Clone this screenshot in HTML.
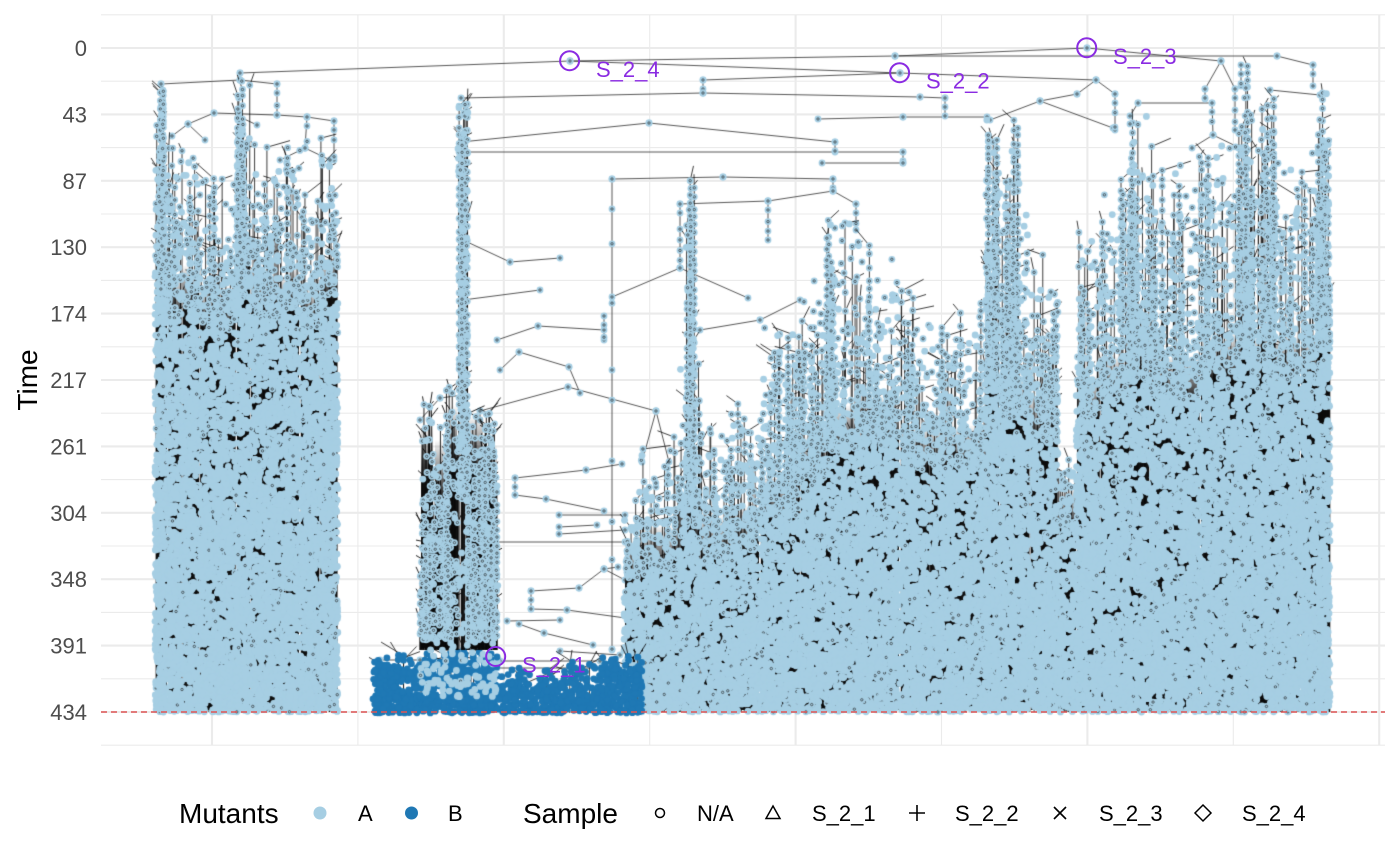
<!DOCTYPE html>
<html><head><meta charset="utf-8">
<style>
html,body{margin:0;padding:0;background:#fff;}
#wrap{position:relative;width:1400px;height:865px;overflow:hidden;font-family:"Liberation Sans",Arial,sans-serif;background:#fff;}
#wrap svg,#wrap canvas{position:absolute;left:0;top:0;}
</style></head><body>
<div id="wrap">
<svg id="bg" width="1400" height="865" xmlns="http://www.w3.org/2000/svg">
<g stroke="#ebebeb" fill="none">
<g stroke-width="1.1">
<line x1="101" x2="1385" y1="14.8" y2="14.8"/><line x1="101" x2="1385" y1="81.2" y2="81.2"/><line x1="101" x2="1385" y1="147.6" y2="147.6"/><line x1="101" x2="1385" y1="214" y2="214"/><line x1="101" x2="1385" y1="280.4" y2="280.4"/><line x1="101" x2="1385" y1="346.8" y2="346.8"/><line x1="101" x2="1385" y1="413.2" y2="413.2"/><line x1="101" x2="1385" y1="479.6" y2="479.6"/><line x1="101" x2="1385" y1="546" y2="546"/><line x1="101" x2="1385" y1="612.4" y2="612.4"/><line x1="101" x2="1385" y1="678.8" y2="678.8"/><line x1="101" x2="1385" y1="745.2" y2="745.2"/>
<line y1="15" y2="745" x1="357.9" x2="357.9"/><line y1="15" y2="745" x1="649.7" x2="649.7"/><line y1="15" y2="745" x1="941.5" x2="941.5"/><line y1="15" y2="745" x1="1233.3" x2="1233.3"/>
</g>
<g stroke-width="2.1">
<line x1="101" x2="1385" y1="48" y2="48"/><line x1="101" x2="1385" y1="114.4" y2="114.4"/><line x1="101" x2="1385" y1="180.8" y2="180.8"/><line x1="101" x2="1385" y1="247.2" y2="247.2"/><line x1="101" x2="1385" y1="313.6" y2="313.6"/><line x1="101" x2="1385" y1="380" y2="380"/><line x1="101" x2="1385" y1="446.4" y2="446.4"/><line x1="101" x2="1385" y1="512.8" y2="512.8"/><line x1="101" x2="1385" y1="579.2" y2="579.2"/><line x1="101" x2="1385" y1="645.6" y2="645.6"/><line x1="101" x2="1385" y1="712" y2="712"/>
<line y1="15" y2="745" x1="212" x2="212"/><line y1="15" y2="745" x1="503.8" x2="503.8"/><line y1="15" y2="745" x1="795.6" x2="795.6"/><line y1="15" y2="745" x1="1087.4" x2="1087.4"/><line y1="15" y2="745" x1="1379.2" x2="1379.2"/>
</g>
</g>
<g font-size="22" fill="#4d4d4d" text-anchor="end" font-family="Liberation Sans, Arial, sans-serif">
<text x="87" y="56">0</text>
<text x="87" y="122.4">43</text>
<text x="87" y="188.8">87</text>
<text x="87" y="255.2">130</text>
<text x="87" y="321.6">174</text>
<text x="87" y="388">217</text>
<text x="87" y="454.4">261</text>
<text x="87" y="520.8">304</text>
<text x="87" y="587.2">348</text>
<text x="87" y="653.6">391</text>
<text x="87" y="720">434</text>
</g>
<text transform="translate(37,380) rotate(-90)" text-anchor="middle" font-size="28" fill="#000" font-family="Liberation Sans, Arial, sans-serif">Time</text>
<g font-family="Liberation Sans, Arial, sans-serif" fill="#000">
<text x="179" y="823" font-size="28">Mutants</text>
<circle cx="320" cy="813" r="6.5" fill="#a6cee3"/>
<text x="358" y="821" font-size="22">A</text>
<circle cx="411.5" cy="813" r="6.5" fill="#1f78b4"/>
<text x="448" y="821" font-size="22">B</text>
<text x="523" y="823" font-size="28">Sample</text>
<circle cx="660" cy="813" r="4.5" fill="none" stroke="#000" stroke-width="1.5"/>
<text x="697" y="821" font-size="22">N/A</text>
<polygon points="773,806 780,818.5 766,818.5" fill="none" stroke="#000" stroke-width="1.5"/>
<text x="812" y="821" font-size="22">S_2_1</text>
<path d="M909,813H925M917,805V821" stroke="#000" stroke-width="1.6"/>
<text x="955" y="821" font-size="22">S_2_2</text>
<path d="M1054,807L1066,819M1066,807L1054,819" stroke="#000" stroke-width="1.6"/>
<text x="1099" y="821" font-size="22">S_2_3</text>
<polygon points="1203,805 1211,813 1203,821 1195,813" fill="none" stroke="#000" stroke-width="1.5"/>
<text x="1242" y="821" font-size="22">S_2_4</text>
</g>
</svg>
<canvas id="cv" width="1400" height="865"></canvas>
<svg id="fg" width="1400" height="865" xmlns="http://www.w3.org/2000/svg">
<line x1="101" x2="1385" y1="712" y2="712" stroke="#e05555" stroke-width="1.4" stroke-dasharray="6,4"/>
<g fill="none" stroke="#8a2be2" stroke-width="2">
<circle cx="569.6" cy="60.7" r="9.5"/>
<circle cx="899.6" cy="72.7" r="9.5"/>
<circle cx="1086.7" cy="47.7" r="9.5"/>
<circle cx="495.7" cy="656.5" r="9.5"/>
</g>
<g fill="#8a2be2" font-size="22" font-family="Liberation Sans, Arial, sans-serif">
<text x="596" y="77">S_2_4</text>
<text x="926" y="88.5">S_2_2</text>
<text x="1113" y="64">S_2_3</text>
<text x="522" y="672.5">S_2_1</text>
</g>
</svg>
</div>
<script>
(function(){
var cv=document.getElementById('cv'),ctx=cv.getContext('2d');
var seed=987654;
function R(){seed|=0;seed=seed+0x6D2B79F5|0;var t=Math.imul(seed^seed>>>15,1|seed);t=t+Math.imul(t^t>>>7,61|t)^t;return((t^t>>>14)>>>0)/4294967296;}
var LB='#a6cee3',DB='#1f78b4',YB=712,RAD=3.4;
function circ(x,y,col,ring){
  ctx.fillStyle=col;ctx.beginPath();ctx.arc(x,y,RAD,0,6.2832);ctx.fill();
  if(ring){ctx.strokeStyle='rgba(30,30,30,0.9)';ctx.lineWidth=0.7;ctx.beginPath();ctx.arc(x,y,1.2,0,6.2832);ctx.stroke();}
}
/* hand-drawn sparse tree */
var T=[
[240,73,570,61],[570,61,895,56],[895,56,1087,48],[895,56,1277,56],[570,61,900,73],[900,73,1096,80],
[703,80,900,73],[703,80,703,93],[461,98,703,93],[703,93,920,97],[920,97,945,98],[945,98,945,116],
[1087,48,1221,61],[1277,56,1313,65],[1313,65,1313,86],[1221,61,1205,89],[1221,61,1235,89],
[1205,89,1205,99],[1235,89,1235,130],[1096,80,1077,94],[1096,80,1115,94],[1077,94,1040,101],
[1040,101,990,120],[1040,101,1113,128],[1115,94,1115,130],[1138,103,1212,103],[1138,103,1130,116],
[1212,103,1213,135],[1213,135,1192,148],[1213,135,1240,148],[818,119,903,117],[903,117,987,117],
[649,123,461,142],[649,123,835,142],[835,142,835,152],[461,152,903,152],[903,152,903,163],
[822,163,903,163],[612,179,723,177],[723,177,833,179],[833,179,833,191],[833,191,768,201],
[768,201,680,204],[833,191,856,204],[680,204,680,268],[680,268,612,297],[680,268,748,298],
[612,179,612,650],[856,204,856,230],[768,201,768,240],[1241,65,1241,86],[1270,90,1320,95],
[161,84,240,80],[240,73,240,80],[240,80,277,84],[277,84,277,115],[161,84,161,140],[214,113,277,115],
[277,115,307,117],[307,117,334,121],[214,113,188,124],[188,124,172,136],[188,124,205,140],
[334,121,334,160],[240,117,257,125],[307,117,305,148],[305,148,280,160],[305,148,330,160],
[568,387,480,411],[568,387,656,411],[480,411,480,420],[656,411,642,462],[656,411,669,462],
[515,478,586,470],[586,470,622,464],[515,478,515,495],[515,495,546,499],[546,499,604,511],
[559,515,625,515],[559,527,597,525],[559,534,625,530],[496,542,625,542],[604,569,579,588],
[579,588,531,591],[531,591,531,609],[531,609,567,610],[567,610,640,620],[507,621,560,620],
[519,624,544,633],[544,633,593,645],[560,651,620,655],[604,569,618,567],[604,569,625,580],
[538,326,497,340],[538,326,604,330],[604,316,604,340],[519,352,500,370],[519,352,569,367],
[569,367,580,393],[463,240,510,262],[510,262,560,258],[463,300,540,290],[420,420,440,398],[440,398,463,395],
[380,660,420,660],[497,668,630,668],[500,661,600,661],[700,330,760,320],[760,320,800,300]
];
ctx.strokeStyle='#2a2a2a';ctx.lineWidth=0.8;ctx.beginPath();
T.forEach(function(l){ctx.moveTo(l[0],l[1]);ctx.lineTo(l[2],l[3]);});ctx.stroke();
T.forEach(function(l){circ(l[0],l[1],LB,true);circ(l[2],l[3],LB,true);
  var len=Math.abs(l[3]-l[1]);
  if(Math.abs(l[2]-l[0])<3&&len<120){for(var y=Math.min(l[1],l[3])+9;y<Math.max(l[1],l[3]);y+=9+R()*8)circ(l[0],y,LB,true);}
  else if(Math.abs(l[2]-l[0])<3){for(var y2=Math.min(l[1],l[3])+30;y2<Math.max(l[1],l[3]);y2+=30+R()*60)circ(l[0],y2,LB,true);}
});
/* segments */
var S=[];
function seg(x0,x1,top,solid,o){o=o||{};var yb=o.ybot||YB;S.push({x0:x0,x1:x1,top:top,solid:solid,
  cmax:o.cmax!==undefined?o.cmax:0.78,csol:o.csol!==undefined?o.csol:0.88,cend:o.cend!==undefined?o.cend:0.985,
  pw:o.pw||1.0,D:o.D||0.75,col:o.col||LB,bg:o.bg!==undefined?o.bg:true,bgc:o.bgc||'17,17,17',ybot:yb,lbot:o.lbot||yb,
  layer:o.layer||0,ring:o.ring!==undefined?o.ring:true,lw:o.lw||0.8,chainP:o.chainP!==undefined?o.chainP:0.35,bgTop:o.bgTop});}
function cov(s,y){
  if(y<s.top)return 0;
  if(y<s.solid)return s.cmax*Math.pow((y-s.top)/(s.solid-s.top),s.pw);
  var f=(y-s.solid)/Math.max(1,(s.ybot-s.solid));if(f>1)f=1;
  return s.csol+(s.cend-s.csol)*Math.sqrt(f);
}
/* chain columns */
function colseg(x0,x1,top,solid,p){seg(x0,x1,top,solid,{pw:p||0.45,D:1.4,bg:false,cmax:0.35,chainP:0.8,ybot:solid,lbot:YB});}
colseg(156,164,85,300);colseg(237,246,75,300);colseg(686,695,178,500);colseg(826,835,212,450);
colseg(985,996,112,380);colseg(1129,1138,95,380);colseg(1245,1253,65,350);colseg(1318,1329,88,350);
colseg(1006,1020,115,400,0.6);colseg(1260,1275,92,340,0.6);
/* left block */
seg(155,168,90,290);seg(168,182,140,320);seg(182,200,125,310);seg(200,236,165,330);seg(236,250,80,290);
seg(250,286,140,320);seg(286,300,125,310);seg(300,320,170,330);seg(320,338,115,300);
/* right block */
seg(624,640,470,585);seg(640,680,430,570);seg(680,700,330,540);seg(700,730,420,560);seg(730,760,400,550);
seg(760,800,320,520);seg(800,830,250,480);seg(830,860,215,450);seg(860,900,235,440);seg(900,930,270,470);
seg(930,985,295,470);seg(985,1000,110,380);seg(1000,1030,190,420);seg(1030,1058,240,440);seg(1058,1076,450,530);
seg(1076,1100,215,420);seg(1100,1130,160,400);seg(1130,1150,100,380);seg(1150,1200,140,400);seg(1200,1240,125,380);
seg(1240,1252,65,350);seg(1252,1300,140,380);seg(1300,1318,130,380);seg(1318,1330,88,350);
/* dark blue */
var db={col:DB,bg:false,layer:1,D:0.12,cmax:0.93,csol:0.96,cend:0.985,ring:false,pw:0.7,ybot:713,chainP:0};
seg(373,422,655,670,db);seg(422,497,648,664,db);seg(497,560,666,688,db);seg(560,600,662,682,db);seg(600,642,655,670,db);
/* middle-left cluster */
function mc(bt){return {layer:2,bg:true,bgc:'20,20,20',bgTop:bt,D:3.5,lw:0.9,cmax:0.32,csol:0.38,cend:0.55,pw:0.9,ybot:697,lbot:650,chainP:0.22};}
seg(420,434,395,640,mc(425));seg(434,446,400,640,mc(440));seg(446,458,385,640,mc(405));seg(468,484,400,640,mc(415));seg(484,498,405,640,mc(445));
seg(458,468,97,500,{layer:2,bg:false,D:2,pw:0.35,cmax:0.5,csol:0.45,cend:0.5,ybot:697,lbot:650,chainP:0.6});

function drawLayer(L){
  var ss=S.filter(function(s){return s.layer==L;});
  ss.forEach(function(s){
    if(!s.bg)return;
    var y1=s.solid, y0=(s.bgTop!==undefined)?s.bgTop:s.solid-45, y2=s.lbot-2;
    if(s.bgTop!==undefined){y1=s.bgTop+60;}
    var g=ctx.createLinearGradient(0,y0,0,y1);
    g.addColorStop(0,'rgba('+s.bgc+',0)');g.addColorStop(1,'rgba('+s.bgc+',1)');
    ctx.fillStyle=g;ctx.fillRect(s.x0+1,y0,s.x1-s.x0-2,y1-y0);
    ctx.fillStyle='rgb('+s.bgc+')';ctx.fillRect(s.x0+1,y1,s.x1-s.x0-2,y2-y1);
  });
  ss.forEach(function(s){
    var w=s.x1-s.x0,n=Math.max(2,Math.round(w*s.D));s.lin=[];
    for(var i=0;i<n;i++){var x=s.x0+R()*w,ys=s.top+(s.solid-s.top)*Math.pow(R(),1/Math.max(0.3,s.pw+0.3));s.lin.push([x,ys]);}
    ctx.strokeStyle='#0a0a0a';ctx.lineWidth=s.lw;ctx.beginPath();
    s.lin.forEach(function(l){
      ctx.moveTo(l[0],l[1]);ctx.lineTo(l[0],s.lbot);
      var px=l[0]+(R()-0.5)*Math.min(60,w+20),py=l[1]-2-R()*14;
      px=Math.max(s.x0-4,Math.min(s.x1+4,px));
      ctx.moveTo(l[0],l[1]);ctx.lineTo(px,py);
    });
    ctx.stroke();
  });
  ss.forEach(function(s){
    var lim=Math.min(s.solid,s.ybot);
    s.lin.forEach(function(l){
      circ(l[0],l[1],s.col,s.ring);
      if(R()>s.chainP)return;
      var y=l[1]+6+R()*9;
      while(y<lim){circ(l[0],y,s.col,s.ring);y+=6+R()*9;}
    });
  });
  ss.forEach(function(s){
    var w=s.x1-s.x0,h=s.ybot-s.top,A=Math.PI*RAD*RAD;
    var cm=Math.max(s.cmax,s.csol,s.cend);
    var lnmax=Math.log(1-cm),lmax=-lnmax/A,n=Math.round(w*h*lmax);
    for(var i=0;i<n;i++){
      var x=s.x0+R()*w,y=s.top+R()*h,c=cov(s,y);
      if(c<=0)continue;
      if(R()<Math.log(1-c)/lnmax)circ(x,y,s.col,s.ring&&(y<s.solid?R()<0.5:R()<0.08));
    }
  });
}
drawLayer(0);drawLayer(1);drawLayer(2);
[[497,657],[512,670],[545,671],[575,668]].forEach(function(p){circ(p[0],p[1],DB,false);});
})();
</script>
</body></html>
